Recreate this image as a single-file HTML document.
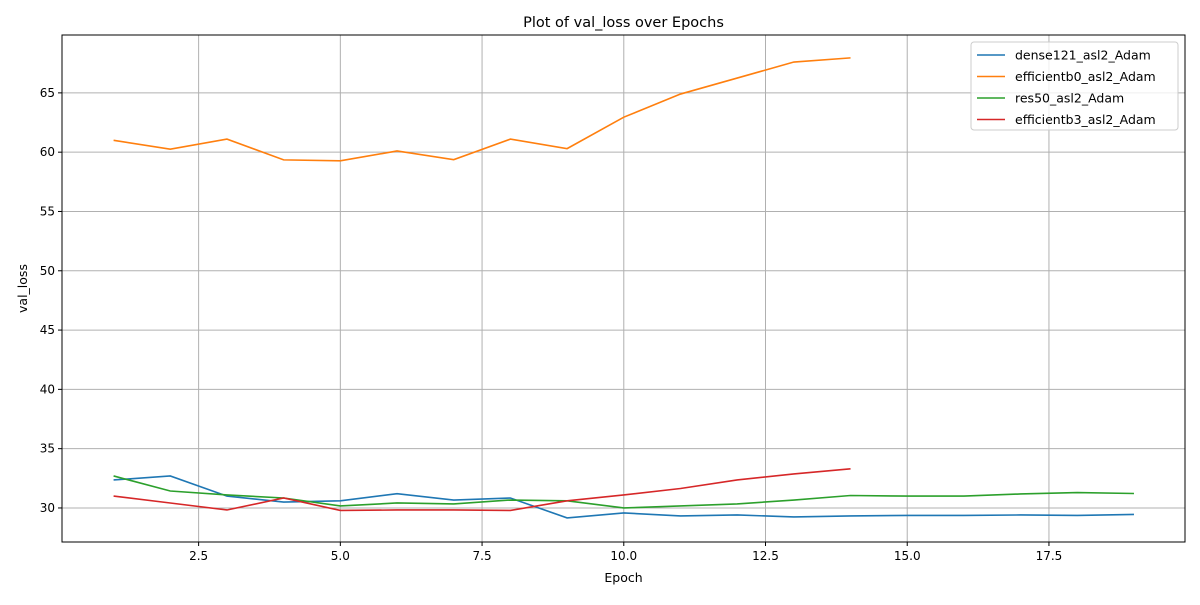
<!DOCTYPE html>
<html><head><meta charset="utf-8"><style>
body{margin:0;background:#fff;font-family:"Liberation Sans","DejaVu Sans",sans-serif}
</style></head><body>
<svg id="chart" width="1200" height="600" xmlns="http://www.w3.org/2000/svg" font-family="DejaVu Sans, Liberation Sans, sans-serif"></svg>
<script>
const epochs=[1,2,3,4,5,6,7,8,9,10,11,12,13,14,15,16,17,18,19];
const dense121=[32.36,32.7,31.0,30.5,30.6,31.2,30.67,30.84,29.16,29.58,29.33,29.41,29.24,29.33,29.37,29.37,29.41,29.37,29.45];
const effb0=[61.0,60.25,61.1,59.35,59.27,60.1,59.37,61.1,60.3,62.95,64.9,66.25,67.6,67.95];
const res50=[32.7,31.43,31.1,30.84,30.17,30.42,30.34,30.67,30.6,30.0,30.17,30.34,30.67,31.05,31.0,31.0,31.18,31.3,31.22];
const effb3=[31.0,30.42,29.83,30.84,29.79,29.83,29.83,29.79,30.6,31.1,31.64,32.36,32.87,33.3];
const xTicks=[2.5,5.0,7.5,10.0,12.5,15.0,17.5];
const yTicks=[30,35,40,45,50,55,60,65];
const seriesNames=["dense121_asl2_Adam","efficientb0_asl2_Adam","res50_asl2_Adam","efficientb3_asl2_Adam"];
const colors=["#1f77b4","#ff7f0e","#2ca02c","#d62728"];
const series=[dense121,effb0,res50,effb3];
const L=62,R=1185,T=35,B=542,xmin=0.09,xmax=19.9,ymin=27.13,ymax=69.88;
const X=v=>L+(v-xmin)/(xmax-xmin)*(R-L);
const Y=v=>B-(v-ymin)/(ymax-ymin)*(B-T);
const svg=document.getElementById('chart');
const NS="http://www.w3.org/2000/svg";
function mk(tag,attrs,text){const e=document.createElementNS(NS,tag);for(const k in attrs)e.setAttribute(k,attrs[k]);if(text!==undefined)e.textContent=text;svg.appendChild(e);return e;}
xTicks.forEach(t=>{const x=X(t);
const g=mk('line',{x1:x,x2:x,y1:T,y2:B,stroke:'#b0b0b0','stroke-width':1});


mk('line',{x1:x,x2:x,y1:B,y2:B+4,stroke:'#000'});
const tx=mk('text',{x:x,y:B+18,'text-anchor':'middle','font-size':12},t.toFixed(1));

});
yTicks.forEach(t=>{const y=Y(t);
const g=mk('line',{x1:L,x2:R,y1:y,y2:y,stroke:'#b0b0b0','stroke-width':1});


mk('line',{x1:L-4,x2:L,y1:y,y2:y,stroke:'#000'});
const tx=mk('text',{x:L-7,y:y+4,'text-anchor':'end','font-size':12},t);

});
series.forEach((s,i)=>{const p=mk('polyline',{points:s.map((v,j)=>X(epochs[j])+','+Y(v)).join(' '),fill:'none',stroke:colors[i],'stroke-width':1.6});

});
const fr=mk('rect',{x:L,y:T,width:R-L,height:B-T,fill:'none',stroke:'#000','stroke-width':1});


const ti=mk('text',{x:(L+R)/2,y:27,'text-anchor':'middle','font-size':14.5},'Plot of val_loss over Epochs');


const xl=mk('text',{x:(L+R)/2,y:582,'text-anchor':'middle','font-size':12.5},'Epoch');


const yl=mk('text',{x:27,y:(T+B)/2,'text-anchor':'middle','font-size':12.5,transform:'rotate(-90 27 '+(T+B)/2+')'},'val_loss');


const lg=mk('rect',{x:971,y:42,width:207,height:88,rx:3,fill:'#fff','fill-opacity':0.8,stroke:'#ccc'});


seriesNames.forEach((n,i)=>{const y=55+i*21.5;
mk('line',{x1:977,x2:1005,y1:y,y2:y,stroke:colors[i],'stroke-width':1.6});
const t=mk('text',{x:1015,y:y+4.5,'font-size':12.5},n);

});
</script>
</body></html>
